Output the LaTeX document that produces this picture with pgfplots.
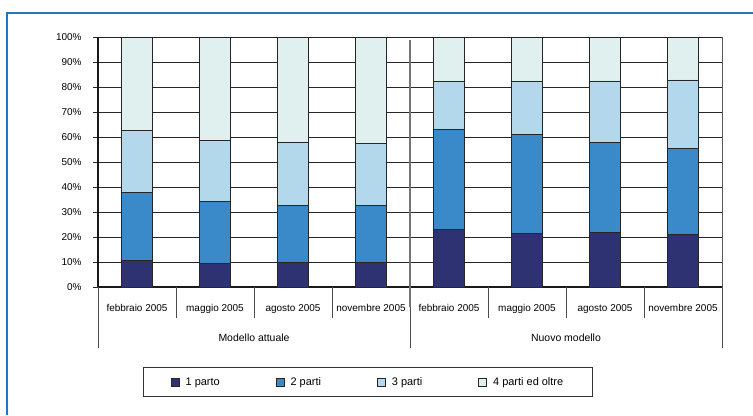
\documentclass[border=0pt]{standalone}
\usepackage{fontspec}
\setmainfont{Liberation Sans}
\usepackage{pgfplots}
\usepackage{pgfplotstable}
\pgfplotsset{compat=1.18}

\definecolor{unoparto}{HTML}{2E3272}
\definecolor{dueparti}{HTML}{3A89C9}
\definecolor{treparti}{HTML}{B3D8EB}
\definecolor{quattroparti}{HTML}{E0F0EF}
\definecolor{cornice}{HTML}{1E77C2}

% share of births by number of deliveries (percent)
\pgfplotstableread{
x uno due tre quattro
0 10.5 27.4 24.6 37.5
1 9.5 24.6 24.7 41.2
2 9.7 23.1 25.2 42.0
3 10.0 22.5 25.0 42.5
4 23.2 39.9 19.0 17.9
5 21.6 39.6 20.9 17.9
6 21.8 36.2 24.4 17.6
7 21.2 34.3 27.3 17.2
}\parti

\begin{document}
\begin{tikzpicture}[x=1bp,y=1bp,font=\fontsize{10}{12}\selectfont]
\useasboundingbox (0,0) rectangle (753,415);
\draw[cornice, line width=1.2bp] (7,0) -- (7,402) -- (753,402);
\begin{axis}[
  at={(98bp,128bp)}, anchor=south west,
  scale only axis, width=624bp, height=250bp,
  ybar stacked, bar width=31bp,
  xmin=-0.5, xmax=7.5, ymin=0, ymax=100,
  xtick={0,...,7},
  xticklabels={febbraio 2005, maggio 2005, agosto 2005, novembre 2005,
               febbraio 2005, maggio 2005, agosto 2005, novembre 2005},
  major x tick style={draw=none},
  xticklabel style={anchor=base, yshift=-24bp},
  ytick={0,10,...,100},
  yticklabel={\pgfmathprintnumber{\tick}\%},
  /pgf/number format/assume math mode=true,
  ytick align=outside, major tick length=5bp,
  yticklabel style={xshift=-8bp},
  ymajorgrids, grid style={black!85, line width=0.8bp},
  axis x line*=bottom, axis y line*=left,
  axis line style={black!90, line width=1.2bp},
  tick style={black!85, line width=0.8bp},
  ticklabel style={font=\fontsize{10}{12}\selectfont},
  clip=false,
  legend columns=4,
  legend style={at={(0.4327,-0.38)}, anchor=center, draw=black!80,
    line width=0.8bp, font=\fontsize{11}{13}\selectfont,
    inner xsep=27bp, inner ysep=8bp,
    /tikz/every even column/.append style={column sep=54bp}},
  legend image code/.code={
    \draw[#1, line width=0.8bp] (0bp,-4bp) rectangle (8bp,4bp);
    \path (12bp,0bp);},
  every axis plot/.append style={draw=black!85, line width=0.9bp},
]
\addplot[fill=unoparto] table[x=x, y=uno] {\parti};
\addplot[fill=dueparti] table[x=x, y=due] {\parti};
\addplot[fill=treparti] table[x=x, y=tre] {\parti};
\addplot[fill=quattroparti] table[x=x, y=quattro] {\parti};
\legend{1 parto, 2 parti, 3 parti, 4 parti ed oltre}

% right border of the plot area
\draw[black!65, line width=0.8bp] (axis cs:7.5,0) -- (axis cs:7.5,100);

% separators under the category labels
\pgfplotsinvokeforeach{0.5,1.5,2.5,4.5,5.5,6.5}{
  \draw[black!70, line width=0.8bp] (axis cs:#1,0) -- ([yshift=-31bp]axis cs:#1,0);
}
\pgfplotsinvokeforeach{-0.5,7.5}{
  \draw[black!70, line width=0.8bp] (axis cs:#1,0) -- ([yshift=-61bp]axis cs:#1,0);
}
% divider between the two models
\draw[black!55, line width=2.2bp] (axis cs:3.5,98.8) -- ([yshift=-20bp]axis cs:3.5,0);
\draw[gray!45, line width=0.6bp] (axis cs:3.5,98.5) -- (axis cs:3.5,0);
\draw[black!70, line width=0.8bp] (axis cs:3.5,0) -- ([yshift=-61bp]axis cs:3.5,0);

\node[anchor=base, font=\fontsize{10.5}{12}\selectfont]
  at ([yshift=-54bp]axis cs:1.5,0) {Modello attuale};
\node[anchor=base, font=\fontsize{10.5}{12}\selectfont]
  at ([yshift=-54bp]axis cs:5.5,0) {Nuovo modello};
\end{axis}
\end{tikzpicture}
\end{document}
